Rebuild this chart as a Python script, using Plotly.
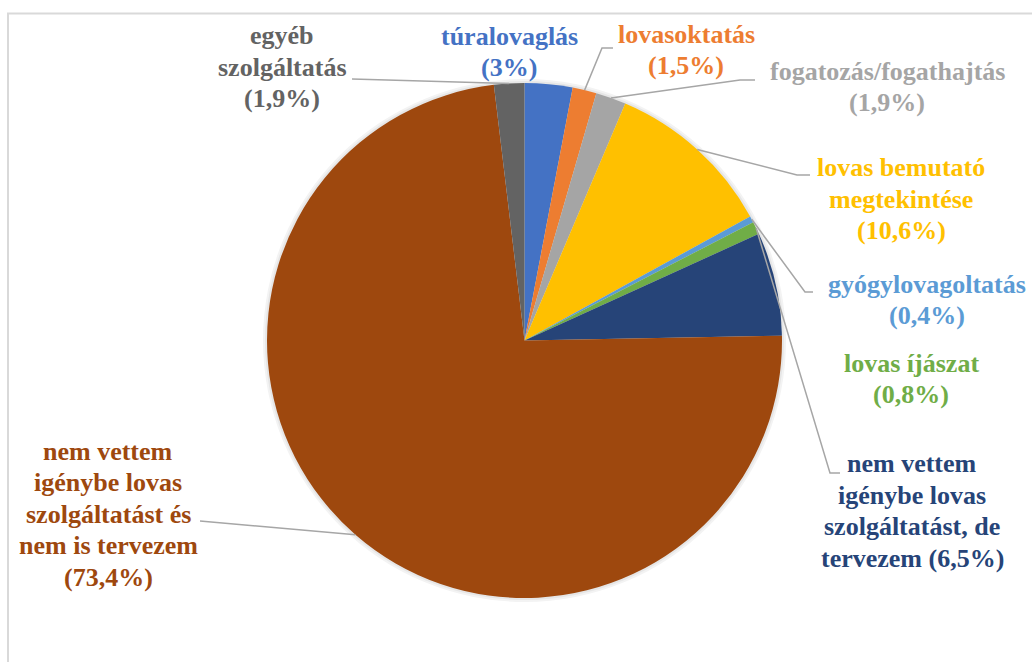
import math
import plotly.graph_objects as go

W, H = 1032, 662

# slice data, clockwise from 12 o'clock
labels = [
    "túralovaglás",
    "lovasoktatás",
    "fogatozás/fogathajtás",
    "lovas bemutató megtekintése",
    "gyógylovagoltatás",
    "lovas íjászat",
    "nem vettem igénybe lovas szolgáltatást, de tervezem",
    "nem vettem igénybe lovas szolgáltatást és nem is tervezem",
    "egyéb szolgáltatás",
]
values = [3.0, 1.5, 1.9, 10.6, 0.4, 0.8, 6.5, 73.4, 1.9]
colors = ["#4472C4", "#ED7D31", "#A5A5A5", "#FFC000", "#5B9BD5",
          "#70AD47", "#264478", "#9E480E", "#636363"]

# label text split into lines as in the original
label_lines = [
    ["túralovaglás", "(3%)"],
    ["lovasoktatás", "(1,5%)"],
    ["fogatozás/fogathajtás", "(1,9%)"],
    ["lovas bemutató", "megtekintése", "(10,6%)"],
    ["gyógylovagoltatás", "(0,4%)"],
    ["lovas íjászat", "(0,8%)"],
    ["nem vettem", "igénybe lovas", "szolgáltatást, de", "tervezem (6,5%)"],
    ["nem vettem", "igénybe lovas", "szolgáltatást és", "nem is tervezem", "(73,4%)"],
    ["egyéb", "szolgáltatás", "(1,9%)"],
]

# pie geometry in pixels
cx, cy, R = 524.5, 340.5, 257.5

# label centres (px) and leader line elbows (px) per slice
label_pos = [(509, 52), (686, 50), (887, 87), (901, 199), (927, 300),
             (911, 379), (912, 511), (108, 514), (282, 67)]
leaders = {
    1: [(602, 48), (613, 48)],
    2: [(740, 80), (755, 80)],
    3: [(797, 175), (810, 175)],
    4: [(805, 292), (813, 292)],
    5: [(830, 473), (840, 473)],
    7: [(200, 521)],
    8: [(352, 79)],
}


def px(x, y):
    return x / W, 1 - y / H


def dom(r):
    return dict(x=[(cx - r) / W, (cx + r) / W],
                y=[1 - (cy + r) / H, 1 - (cy - r) / H])


fig = go.Figure()

# soft shadow around the pie
for r, c in [(R + 4, "#F3F3F3"), (R + 2, "#E6E6E6")]:
    fig.add_trace(go.Pie(
        labels=["shadow"], values=[1], sort=False, textinfo="none",
        hoverinfo="skip", showlegend=False,
        marker=dict(colors=[c], line=dict(width=0)), domain=dom(r),
    ))

fig.add_trace(go.Pie(
    labels=labels,
    values=values,
    sort=False,
    direction="clockwise",
    rotation=0,
    marker=dict(colors=colors, line=dict(width=0)),
    textinfo="none",
    hoverinfo="label+percent",
    showlegend=False,
    domain=dom(R),
))

# leader lines from the slice middles on the rim
total = sum(values)
cum = 0.0
mids = []
for v in values:
    mids.append((cum + v / 2) / total * 2 * math.pi)
    cum += v

shapes = []
for i, pts in leaders.items():
    a = mids[i]
    start = (cx + R * math.sin(a), cy - R * math.cos(a))
    path_pts = [start] + pts
    path = ""
    for k, (x, y) in enumerate(path_pts):
        fx, fy = px(x, y)
        path += ("M" if k == 0 else " L") + f"{fx:.5f},{fy:.5f}"
    shapes.append(dict(type="path", path=path, xref="paper", yref="paper",
                       line=dict(color="#A6A6A6", width=1.5)))

# chart frame
shapes.append(dict(type="rect", xref="paper", yref="paper",
                   x0=8 / W, x1=1.1, y0=-0.1, y1=1 - 13.5 / H,
                   line=dict(color="#D9D9D9", width=2)))

annotations = []
line_h = 31.5
for i, lines in enumerate(label_lines):
    lx, ly = label_pos[i]
    n = len(lines)
    for k, t in enumerate(lines):
        yy = ly + (k - (n - 1) / 2) * line_h
        fx, fy = px(lx, yy)
        annotations.append(dict(
            x=fx, y=fy, xref="paper", yref="paper", text=t,
            showarrow=False, xanchor="center", yanchor="middle",
            font=dict(family="Liberation Serif, Times New Roman, serif",
                      size=26, color=colors[i], weight="bold"),
        ))

fig.update_layout(
    width=W, height=H,
    margin=dict(l=0, r=0, t=0, b=0),
    paper_bgcolor="white",
    plot_bgcolor="white",
    shapes=shapes,
    annotations=annotations,
)

fig.write_html("out.html", post_script="document.body.style.margin='0';",
               config={"displayModeBar": False})
